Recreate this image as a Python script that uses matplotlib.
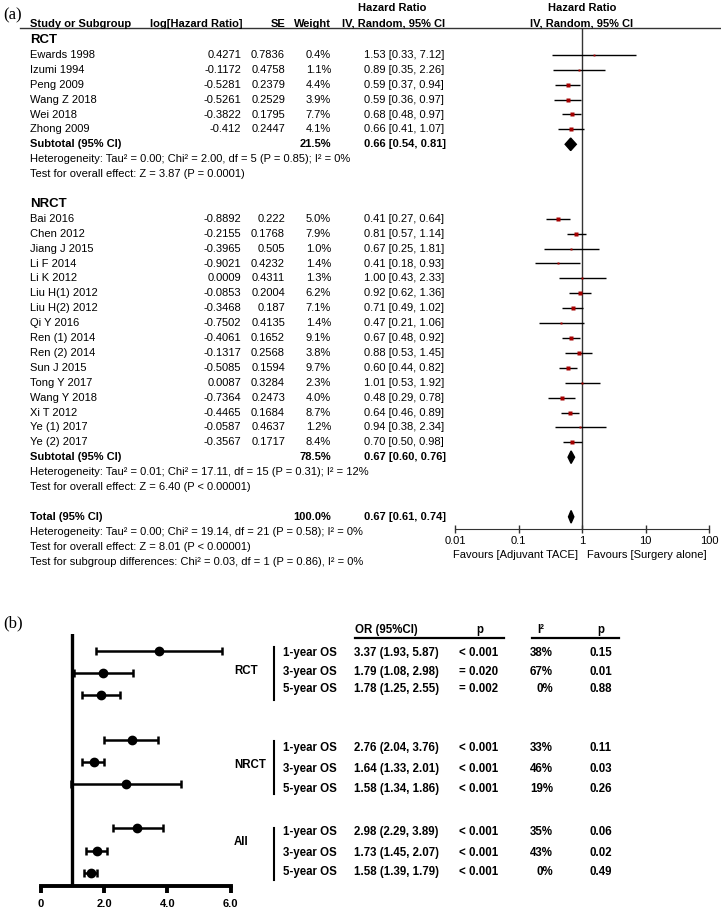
import numpy as np
import matplotlib
matplotlib.use('Agg')
import matplotlib.pyplot as plt
from matplotlib.transforms import blended_transform_factory
from matplotlib.lines import Line2D
from matplotlib.patches import Polygon

plt.rcParams['font.family'] = ['Liberation Sans', 'DejaVu Sans']

#%%

# Panel (a) data: forest plot of hazard ratios

rct_names = ['Ewards 1998', 'Izumi 1994', 'Peng 2009', 'Wang Z 2018', 'Wei 2018', 'Zhong 2009']
rct_loghr = [0.4271, -0.1172, -0.5281, -0.5261, -0.3822, -0.412]
rct_se = [0.7836, 0.4758, 0.2379, 0.2529, 0.1795, 0.2447]
rct_weight = [0.4, 1.1, 4.4, 3.9, 7.7, 4.1]
rct_hr = [1.53, 0.89, 0.59, 0.59, 0.68, 0.66]
rct_lo = [0.33, 0.35, 0.37, 0.36, 0.48, 0.41]
rct_hi = [7.12, 2.26, 0.94, 0.97, 0.97, 1.07]

nrct_names = ['Bai 2016', 'Chen 2012', 'Jiang J 2015', 'Li F 2014', 'Li K 2012',
              'Liu H(1) 2012', 'Liu H(2) 2012', 'Qi Y 2016', 'Ren (1) 2014', 'Ren (2) 2014',
              'Sun J 2015', 'Tong Y 2017', 'Wang Y 2018', 'Xi T 2012', 'Ye (1) 2017', 'Ye (2) 2017']
nrct_loghr = [-0.8892, -0.2155, -0.3965, -0.9021, 0.0009, -0.0853, -0.3468, -0.7502,
              -0.4061, -0.1317, -0.5085, 0.0087, -0.7364, -0.4465, -0.0587, -0.3567]
nrct_se = [0.222, 0.1768, 0.505, 0.4232, 0.4311, 0.2004, 0.187, 0.4135,
           0.1652, 0.2568, 0.1594, 0.3284, 0.2473, 0.1684, 0.4637, 0.1717]
nrct_weight = [5.0, 7.9, 1.0, 1.4, 1.3, 6.2, 7.1, 1.4, 9.1, 3.8, 9.7, 2.3, 4.0, 8.7, 1.2, 8.4]
nrct_hr = [0.41, 0.81, 0.67, 0.41, 1.00, 0.92, 0.71, 0.47, 0.67, 0.88, 0.60, 1.01, 0.48, 0.64, 0.94, 0.70]
nrct_lo = [0.27, 0.57, 0.25, 0.18, 0.43, 0.62, 0.49, 0.21, 0.48, 0.53, 0.44, 0.53, 0.29, 0.46, 0.38, 0.50]
nrct_hi = [0.64, 1.14, 1.81, 0.93, 2.33, 1.36, 1.02, 1.06, 0.92, 1.45, 0.82, 1.92, 0.78, 0.89, 2.34, 0.98]

pooled_names = ['Subtotal (95% CI)', 'Subtotal (95% CI)', 'Total (95% CI)']
pooled_weight = [21.5, 78.5, 100.0]
pooled_hr = [0.66, 0.67, 0.67]
pooled_lo = [0.54, 0.60, 0.61]
pooled_hi = [0.81, 0.76, 0.74]

rct_notes = ['Heterogeneity: Tau² = 0.00; Chi² = 2.00, df = 5 (P = 0.85); I² = 0%',
             'Test for overall effect: Z = 3.87 (P = 0.0001)']
nrct_notes = ['Heterogeneity: Tau² = 0.01; Chi² = 17.11, df = 15 (P = 0.31); I² = 12%',
              'Test for overall effect: Z = 6.40 (P < 0.00001)']
total_notes = ['Heterogeneity: Tau² = 0.00; Chi² = 19.14, df = 21 (P = 0.58); I² = 0%',
               'Test for overall effect: Z = 8.01 (P < 0.00001)',
               'Test for subgroup differences: Chi² = 0.03, df = 1 (P = 0.86), I² = 0%']

hr_ticks = [0.01, 0.1, 1, 10, 100]

# Panel (b) data: odds ratios and table text

groups = ['RCT', 'NRCT', 'All']
os_labels = ['1-year OS', '3-year OS', '5-year OS']
or_est = [3.74, 1.98, 1.91, 2.88, 1.69, 2.70, 3.06, 1.77, 1.59]
or_lo = [1.75, 1.05, 1.30, 2.00, 1.32, 0.95, 2.27, 1.43, 1.37]
or_hi = [5.73, 2.93, 2.51, 3.72, 2.01, 4.44, 3.88, 2.11, 1.79]
or_text = ['3.37 (1.93, 5.87)', '1.79 (1.08, 2.98)', '1.78 (1.25, 2.55)',
           '2.76 (2.04, 3.76)', '1.64 (1.33, 2.01)', '1.58 (1.34, 1.86)',
           '2.98 (2.29, 3.89)', '1.73 (1.45, 2.07)', '1.58 (1.39, 1.79)']
p_text = ['< 0.001', '= 0.020', '= 0.002', '< 0.001', '< 0.001', '< 0.001',
          '< 0.001', '< 0.001', '< 0.001']
i2_text = ['38%', '67%', '0%', '33%', '46%', '19%', '35%', '43%', '0%']
phet_text = ['0.15', '0.01', '0.88', '0.11', '0.03', '0.26', '0.06', '0.02', '0.49']
or_ticks = [0, 2, 4, 6]

#%%

W, H = 721, 913
fig = plt.figure(figsize=(W / 100, H / 100), dpi=100)


def fx(px):
    return px / W


def fy(py):
    return 1 - py / H


fig.text(fx(3), fy(15), '(a)', family=['Liberation Serif'], fontsize=12, va='center')
fig.text(fx(3), fy(623), '(b)', family=['Liberation Serif'], fontsize=12, va='center')

#%%

# Panel (a)

row_px0, row_step = 40, 14.9
axA = fig.add_axes([fx(455), fy(529), fx(709.3) - fx(455), (529 - 28) / H])
axA.set_xscale('log')
axA.set_xlim(0.01, 100)
axA.set_ylim((529 - row_px0) / row_step, (28 - row_px0) / row_step)
for s in ['top', 'left', 'right']:
    axA.spines[s].set_visible(False)
axA.spines['bottom'].set_color('#333333')
axA.set_xticks(hr_ticks)
axA.set_xticklabels(['0.01', '0.1', '1', '10', '100'])
axA.minorticks_off()
axA.tick_params(axis='x', direction='inout', length=6, width=1, colors='#333333',
                labelcolor='black', labelsize=8, pad=2)
axA.set_yticks([])
axA.axvline(1, color='#333333', lw=1)

tr = blended_transform_factory(fig.transFigure, axA.transData)

# header
fig.add_artist(Line2D([fx(20), fx(721)], [fy(28), fy(28)], color='#333333', lw=1))
hdr = dict(fontsize=8, fontweight='bold', va='baseline')
fig.text(fx(30), fy(27), 'Study or Subgroup', ha='left', **hdr)
fig.text(fx(243), fy(27), 'log[Hazard Ratio]', ha='right', **hdr)
fig.text(fx(285), fy(27), 'SE', ha='right', **hdr)
fig.text(fx(331), fy(27), 'Weight', ha='right', **hdr)
fig.text(fx(392), fy(11), 'Hazard Ratio', ha='center', **hdr)
fig.text(fx(394), fy(27), 'IV, Random, 95% CI', ha='center', **hdr)
fig.text(fx(582), fy(11), 'Hazard Ratio', ha='center', **hdr)
fig.text(fx(582), fy(27), 'IV, Random, 95% CI', ha='center', **hdr)


def study_rows(start, names, loghr, se, weight, hr, lo, hi):
    for i in range(len(names)):
        r = start + i
        kw = dict(transform=tr, va='center', fontsize=8)
        axA.text(fx(30), r, names[i], ha='left', **kw)
        axA.text(fx(241), r, str(loghr[i]), ha='right', **kw)
        axA.text(fx(285), r, str(se[i]), ha='right', **kw)
        axA.text(fx(331), r, f'{weight[i]:.1f}%', ha='right', **kw)
        axA.text(fx(364), r, f'{hr[i]:.2f} [{lo[i]:.2f}, {hi[i]:.2f}]', ha='left', **kw)
        axA.plot([lo[i], hi[i]], [r, r], color='black', lw=1, solid_capstyle='butt')
        axA.plot(hr[i], r, 's', color='#a50000', mec='none',
                 ms=1.0 + 0.6 * np.sqrt(weight[i]))


def pooled_row(r, k):
    kw = dict(transform=tr, va='center', fontsize=8, fontweight='bold')
    axA.text(fx(30), r, pooled_names[k], ha='left', **kw)
    axA.text(fx(331), r, f'{pooled_weight[k]:.1f}%', ha='right', **kw)
    axA.text(fx(364), r, f'{pooled_hr[k]:.2f} [{pooled_lo[k]:.2f}, {pooled_hi[k]:.2f}]',
             ha='left', **kw)
    h = 0.42
    axA.add_patch(Polygon([[pooled_lo[k], r], [pooled_hr[k], r - h], [pooled_hi[k], r],
                           [pooled_hr[k], r + h]], closed=True, color='black'))


def notes(start, lines):
    for i, t in enumerate(lines):
        axA.text(fx(30), start + i, t, transform=tr, va='center', ha='left', fontsize=8)


axA.text(fx(30), 0, 'RCT', transform=tr, va='center', ha='left', fontsize=9.5, fontweight='bold')
study_rows(1, rct_names, rct_loghr, rct_se, rct_weight, rct_hr, rct_lo, rct_hi)
pooled_row(7, 0)
notes(8, rct_notes)

axA.text(fx(30), 11, 'NRCT', transform=tr, va='center', ha='left', fontsize=9.5, fontweight='bold')
study_rows(12, nrct_names, nrct_loghr, nrct_se, nrct_weight, nrct_hr, nrct_lo, nrct_hi)
pooled_row(28, 1)
notes(29, nrct_notes)

pooled_row(32, 2)
notes(33, total_notes)

fig.text(fx(453), fy(555), 'Favours [Adjuvant TACE]', ha='left', va='center', fontsize=8)
fig.text(fx(587), fy(555), 'Favours [Surgery alone]', ha='left', va='center', fontsize=8)

#%%

# Panel (b)

axB = fig.add_axes([fx(40.7), fy(886), fx(230.5) - fx(40.7), (886 - 634) / H])
rows = [0, 1, 2, 4, 5, 6, 8, 9, 10]
axB.set_xlim(0, 6)
axB.set_ylim((886 - 650.7) / 22.2, (634 - 650.7) / 22.2)
for s in ['top', 'left', 'right']:
    axB.spines[s].set_visible(False)
axB.spines['bottom'].set_linewidth(2.8)
axB.set_yticks([])
axB.set_xticks(or_ticks)
axB.set_xticklabels(['0', '2.0', '4.0', '6.0'], fontweight='bold', fontsize=8)
axB.tick_params(axis='x', direction='out', length=5, width=2.8, pad=4)
axB.axvline(1, color='black', lw=2.4)

est = np.array(or_est)
axB.errorbar(est, rows, xerr=[est - np.array(or_lo), np.array(or_hi) - est], fmt='o',
             color='black', ms=6, lw=1.8, capsize=3, capthick=1.8, clip_on=False)

# table
tb = dict(fontsize=8.3, fontweight='bold', va='center')
fig.text(fx(355), fy(630), 'OR (95%CI)', ha='left', **tb)
fig.text(fx(480), fy(630), 'p', ha='center', **tb)
fig.text(fx(541), fy(630), 'I²', ha='center', **tb)
fig.text(fx(601), fy(630), 'p', ha='center', **tb)
fig.add_artist(Line2D([fx(355), fx(504)], [fy(637.5), fy(637.5)], color='black', lw=1.6))
fig.add_artist(Line2D([fx(532), fx(619)], [fy(637.5), fy(637.5)], color='black', lw=1.6))

text_y = [653.3, 671.7, 689.3, 748.3, 769.3, 788.7, 832.3, 852.7, 872.3]
group_y = [670.7, 765, 842]
bracket_y = [(647, 700), (741, 794), (828, 880)]
for g in range(3):
    fig.text(fx(234), fy(group_y[g]), groups[g], ha='left', **tb)
    fig.add_artist(Line2D([fx(273.5), fx(273.5)], [fy(bracket_y[g][0]), fy(bracket_y[g][1])],
                          color='black', lw=1.5))
for i in range(9):
    y = fy(text_y[i])
    fig.text(fx(283), y, os_labels[i % 3], ha='left', **tb)
    fig.text(fx(354), y, or_text[i], ha='left', **tb)
    fig.text(fx(459), y, p_text[i], ha='left', **tb)
    fig.text(fx(553), y, i2_text[i], ha='right', **tb)
    fig.text(fx(589), y, phet_text[i], ha='left', **tb)

fig.savefig('out.png', dpi=100)
